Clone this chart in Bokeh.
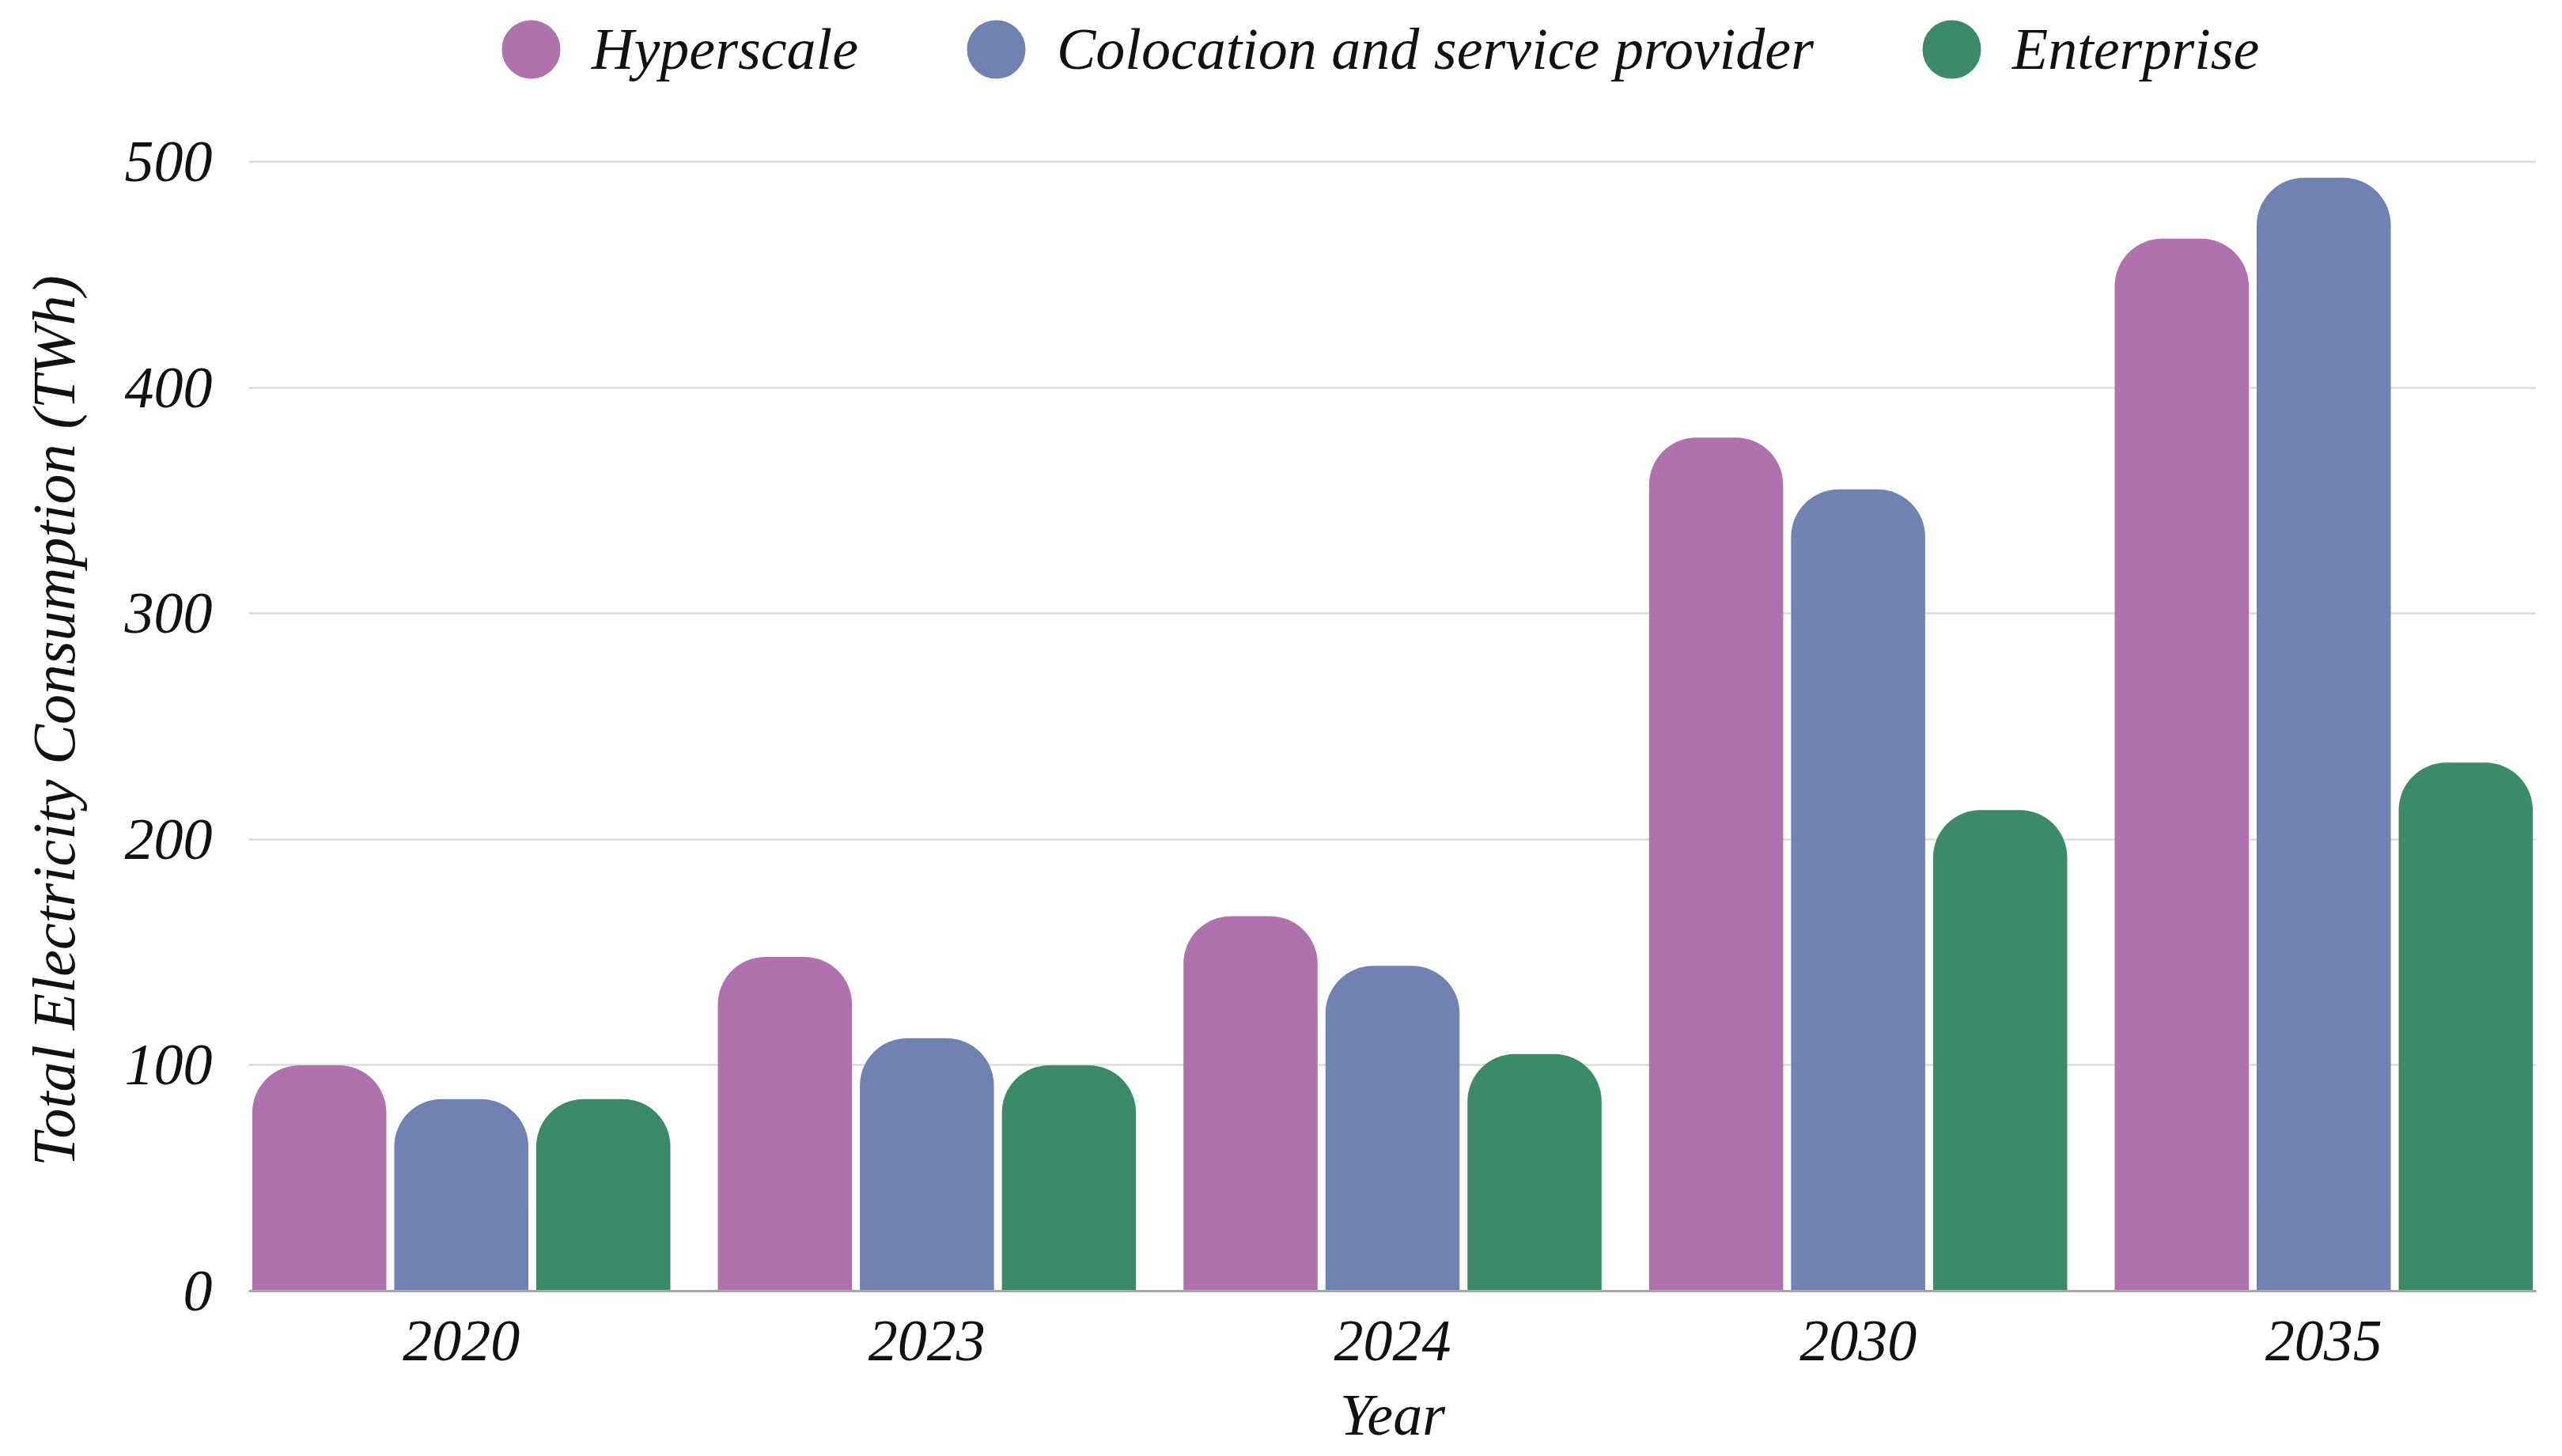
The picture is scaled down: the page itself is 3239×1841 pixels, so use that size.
from bokeh.plotting import figure
from bokeh.layouts import column
from bokeh.models import FactorRange, ColumnDataSource, Legend, LegendItem, FixedTicker
from bokeh.transform import dodge
from bokeh.embed import file_html
from bokeh.resources import INLINE

years = ["2020", "2023", "2024", "2030", "2035"]
series = ["Hyperscale", "Colocation and service provider", "Enterprise"]
hyperscale = [100, 148, 166, 378, 466]
colocation = [85, 112, 144, 355, 493]
enterprise = [85, 100, 105, 213, 234]
colors = ["#B072AE", "#6F82B2", "#3B8A6A"]
y_ticks = [0, 100, 200, 300, 400, 500]

FONT = "Liberation Serif"
W = 3220

source = ColumnDataSource(dict(year=years, hyperscale=hyperscale,
                               colocation=colocation, enterprise=enterprise))
cols = ["hyperscale", "colocation", "enterprise"]
offsets = [-0.305, 0.0, 0.305]

# ---------- legend strip ----------
# its y range lies above all values, so the key renderers draw nothing in the strip
leg = figure(x_range=FactorRange(factors=years), y_range=(600, 700),
             width=W, height=130, output_backend="svg", toolbar_location=None,
             x_axis_location=None, y_axis_location=None,
             min_border_left=0, min_border_right=0, min_border_top=0, min_border_bottom=0)
leg.grid.visible = False
leg.outline_line_color = None
items = []
for name, col, off, color in zip(series, cols, offsets, colors):
    r = leg.scatter(x=dodge("year", off, range=leg.x_range), y=col, source=source,
                    marker="circle", size=0, fill_color=color,
                    line_color=color, line_width=12.4)
    items.append(LegendItem(label=name, renderers=[r]))
legend = Legend(items=items, orientation="horizontal", location=(280, -9),
                glyph_width=154, glyph_height=154,
                label_text_font=FONT, label_text_font_style="italic",
                label_text_font_size="74px", label_text_color="#111111",
                label_standoff=0, spacing=97,
                border_line_color=None, background_fill_alpha=0,
                padding=0, margin=0)
leg.add_layout(legend, "center")

# ---------- main chart ----------
p = figure(x_range=FactorRange(factors=years, range_padding=-0.0174),
           y_range=(0, 505), width=W, height=1706,
           output_backend="svg", toolbar_location=None,
           min_border_left=314, min_border_right=14,
           min_border_top=60, min_border_bottom=204)

for col, off, color in zip(cols, offsets, colors):
    p.vbar(x=dodge("year", off, range=p.x_range), top=col, width=0.288,
           source=source, fill_color=color, line_color=None,
           border_radius=(60, 60, 0, 0))

p.yaxis.ticker = FixedTicker(ticks=y_ticks)
p.yaxis.axis_line_color = None
p.yaxis.major_tick_line_color = None
p.yaxis.minor_tick_line_color = None
p.yaxis.major_label_text_font = FONT
p.yaxis.major_label_text_font_style = "italic"
p.yaxis.major_label_text_font_size = "74px"
p.yaxis.major_label_text_color = "#111111"
p.yaxis.major_label_standoff = 40
p.yaxis.axis_label = "Total Electricity Consumption (TWh)"
p.yaxis.axis_label_text_font = FONT
p.yaxis.axis_label_text_font_style = "italic"
p.yaxis.axis_label_text_font_size = "76px"
p.yaxis.axis_label_text_color = "#111111"
p.yaxis.axis_label_standoff = 45

p.xaxis.axis_line_color = "#A8A8A8"
p.xaxis.axis_line_width = 3
p.xaxis.major_tick_line_color = None
p.xaxis.minor_tick_line_color = None
p.xaxis.major_label_text_font = FONT
p.xaxis.major_label_text_font_style = "italic"
p.xaxis.major_label_text_font_size = "74px"
p.xaxis.major_label_text_color = "#111111"
p.xaxis.major_label_standoff = 32
p.xaxis.axis_label = "Year"
p.xaxis.axis_label_text_font = FONT
p.xaxis.axis_label_text_font_style = "italic"
p.xaxis.axis_label_text_font_size = "74px"
p.xaxis.axis_label_text_color = "#111111"
p.xaxis.axis_label_standoff = 25

p.ygrid.grid_line_color = "#DDDDDD"
p.ygrid.grid_line_width = 2.5
p.xgrid.grid_line_color = None
p.outline_line_color = None
p.background_fill_color = "white"
p.border_fill_color = "white"

layout = column(leg, p, spacing=0)
open("out.html", "w").write(file_html(layout, INLINE))
